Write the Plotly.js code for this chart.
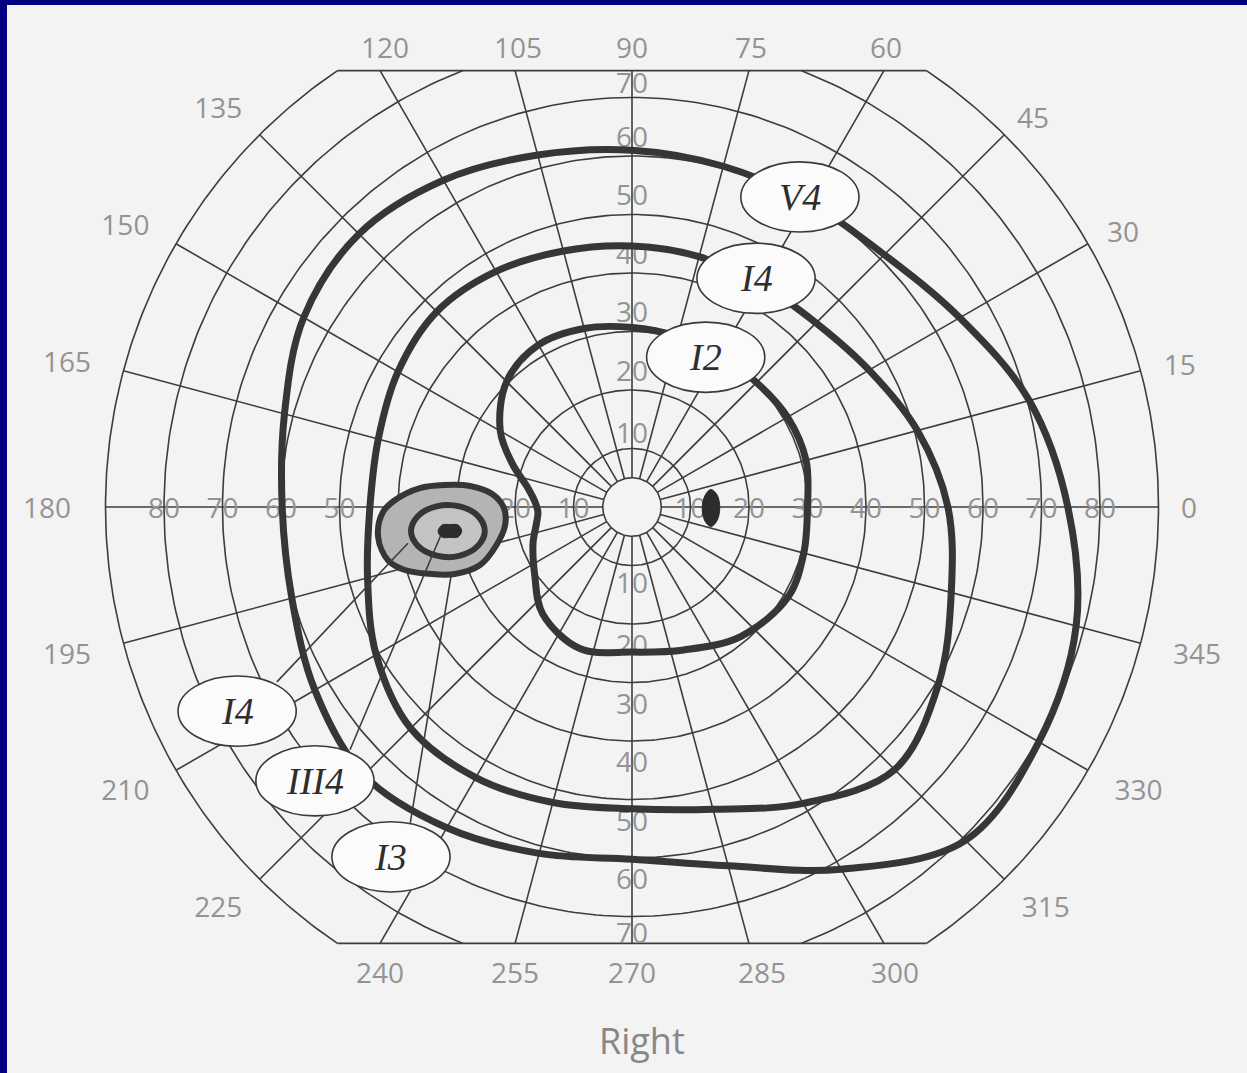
<!DOCTYPE html>
<html>
<head>
<meta charset="utf-8">
<script src="https://cdn.plot.ly/plotly-3.0.1.min.js"></script>
<style>
html,body{margin:0;padding:0;background:#f3f3f3;overflow:hidden;}
#chart{width:1247px;height:1073px;}
</style>
</head>
<body>
<div id="chart"></div>
<script>
// ================= DATA (degrees of visual field) =================
const ringRadii = [10, 20, 30, 40, 50, 60, 70, 80, 90];
const meridians = [0, 15, 30, 45, 60, 75, 90, 105, 120, 135, 150, 165, 180, 195, 210, 225, 240, 255, 270, 285, 300, 315, 330, 345];
const angleTickLabels = ['0','15','30','45','60','75','90','105','120','135','150','165','180','195','210','225','240','255','270','285','300','315','330','345'];
const hRadialTicks = [10, 20, 30, 40, 50, 60, 70, 80];
const vRadialTicks = [10, 20, 30, 40, 50, 60, 70];

// Isopter V4 (outer)
const v4Theta = [0, 15, 30, 45, 60, 75, 90, 105, 120, 135, 150, 165, 180, 195, 210, 225, 240, 255, 270, 285, 300, 315, 330, 345];
const v4R     = [74.5, 70.3, 64.7, 61.0, 60.2, 60.3, 61.0, 62.3, 64.5, 66.0, 64.8, 61.5, 59.8, 60.2, 62.6, 64.8, 63.3, 61.3, 60.2, 63.5, 71.5, 80.6, 80.3, 78.6];

// Isopter I4 (middle)
const i4Theta = [0, 15, 30, 45, 60, 75, 90, 105, 120, 135, 150, 165, 180, 195, 210, 225, 240, 255, 270, 285, 300, 315, 330, 345];
const i4R     = [54.0, 50.5, 46.8, 44.5, 44.0, 44.3, 44.6, 45.3, 46.5, 47.2, 46.2, 44.9, 44.8, 46.8, 50.5, 53.5, 53.4, 52.3, 51.6, 53.5, 58.5, 63.5, 60.5, 56.5];

// Isopter I2 (inner, notched nasally)
const i2Theta = [0, 15, 30, 45, 60, 75, 90, 105, 120, 135, 150, 160, 170, 177, 183, 190, 200, 215, 230, 250, 270, 290, 310, 330, 345];
const i2R     = [30.0, 30.8, 30.7, 30.1, 30.0, 30.2, 30.7, 31.6, 32.0, 30.3, 26.0, 21.8, 18.0, 16.6, 16.1, 16.6, 18.0, 20.3, 23.8, 25.8, 24.8, 26.0, 28.9, 30.8, 30.4];

// Scotoma: outer boundary, middle ring, core
const scotOuterTheta = [186.7, 181.2, 178.3, 174.9, 173.3, 172.6, 174.7, 180.4, 188.1, 196.0, 200.9, 200.7, 198.3, 195.5, 192.3];
const scotOuterR     = [43.7, 42.6, 40.5, 36.4, 32.2, 27.9, 24.0, 21.9, 21.9, 24.2, 27.8, 32.4, 36.4, 40.3, 42.7];
const scotMidTheta = [189.3, 183.3, 179.8, 179.8, 182.4, 186.2, 190.3, 194.0, 195.8, 194.2];
const scotMidR     = [25.5, 26.4, 29.5, 33.4, 36.6, 38.0, 37.2, 34.4, 30.7, 27.2];
const scotCoreTheta = [188.0, 185.9, 185.5, 185.4, 187.1, 189.0, 189.5, 189.8];
const scotCoreR     = [29.4, 29.9, 31.3, 32.6, 33.4, 32.9, 31.5, 30.2];

// Physiological blind spot
const blindTheta = [359.3, 8.0, 12.5, 9.3, 359.2, 349.1, 346.1, 350.6];
const blindR     = [15.0, 14.7, 13.8, 12.7, 12.0, 12.7, 13.9, 14.7];

// Isopter tags
const tagTexts = ['V4', 'I4', 'I2', 'I4', 'III4', 'I3'];

// ================= LAYOUT CONFIG =================
const CX = 632, CY = 507, K = 5.85;   // pixel centre, pixels per degree
const W = 1247, H = 1073;
const BORDER_L = 7, BORDER_T = 5;
const CLIP = 74.6;                    // flat top / bottom edge of the form
const OUTER = 90, INNER = 5;
const GRID = '#3d3d3d', INK = '#363636', TXT = '#939393', BG = '#f3f3f3', NAVY = '#000080';
const TICK_SIZE = 28;
const TEXT_DY = -0.68;                // compensates text baseline placement
// angle-label placement (pixels): horizontal / vertical radius by label length
const LAB_RX = {1: 557, 2: 567, 3: 585}, LAB_RY = {1: 548, 2: 551, 3: 565};
const LAB_NUDGE = {'120': 5, '105': 3, '75': 2, '60': 2, '285': 13, '300': 11};
const tagPos = [ [28.7, 53.0], [21.2, 39.1], [12.6, 25.6], [-67.5, -34.9], [-54.2, -46.8], [-41.2, -59.8] ];
// leader lines for the scotoma tags: [start, end] in degrees
const leaders = [ [[-60.7, -29.9], [-38.3, -6.2]], [[-48.2, -41.5], [-32.5, -4.4]], [[-37.9, -54.0], [-30.9, -11.6]] ];
const TAG_RX = 10.1, TAG_RY = 6.0;

// ================= helpers =================
const rad = d => d * Math.PI / 180;
function toXY(th, r, close) {
  const x = [], y = [];
  for (let i = 0; i < th.length; i++) {
    x.push(r[i] * Math.cos(rad(th[i])));
    y.push(r[i] * Math.sin(rad(th[i])));
  }
  if (close) { x.push(x[0]); y.push(y[0]); }
  return {x, y};
}
function arc(R, a0, a1, n, xs, ys) {
  for (let i = 0; i <= n; i++) {
    const a = rad(a0 + (a1 - a0) * i / n);
    xs.push(R * Math.cos(a)); ys.push(R * Math.sin(a));
  }
  xs.push(null); ys.push(null);
}

// ---- grid rings (clipped by flat top/bottom) ----
const gx = [], gy = [];
ringRadii.forEach(R => {
  if (R <= CLIP) arc(R, 0, 360, 360, gx, gy);
  else {
    const a = Math.asin(CLIP / R) * 180 / Math.PI;
    arc(R, -a, a, 160, gx, gy);
    arc(R, 180 - a, 180 + a, 160, gx, gy);
  }
});
const xe = Math.sqrt(OUTER * OUTER - CLIP * CLIP);
gx.push(-xe, xe, null, -xe, xe, null);
gy.push(CLIP, CLIP, null, -CLIP, -CLIP, null);

// ---- meridian lines ----
const mx = [], my = [];
meridians.forEach(m => {
  const s = Math.abs(Math.sin(rad(m)));
  let rEnd = OUTER;
  if (OUTER * s > CLIP) rEnd = CLIP / s;
  mx.push(INNER * Math.cos(rad(m)), rEnd * Math.cos(rad(m)), null);
  my.push(INNER * Math.sin(rad(m)), rEnd * Math.sin(rad(m)), null);
});

// ---- inner fixation disk ----
const disk = {x: [], y: []};
for (let i = 0; i <= 120; i++) { const a = rad(i * 3); disk.x.push(INNER * Math.cos(a)); disk.y.push(INNER * Math.sin(a)); }

// ---- radial tick labels ----
const rlx = [], rly = [], rlt = [];
hRadialTicks.forEach(v => { rlx.push(v, -v); rly.push(TEXT_DY, TEXT_DY); rlt.push(String(v), String(v)); });
vRadialTicks.forEach(v => {
  const off = Math.min(v + (v === 10 ? 2.8 : 3.5), CLIP - 2.0);
  rlx.push(0, 0); rly.push(off + TEXT_DY, -off + TEXT_DY); rlt.push(String(v), String(v));
});

// ---- angle tick labels ----
const alx = [], aly = [];
meridians.forEach((m, i) => {
  const s = Math.sin(rad(m)), c = Math.cos(rad(m));
  const lab = angleTickLabels[i];
  const nudge = (LAB_NUDGE[lab] || 0) / K;
  if (Math.abs(OUTER * s) > CLIP) {
    alx.push(CLIP * c / Math.abs(s) + nudge);
    aly.push((s > 0 ? CLIP + 4.0 : -(CLIP + 4.9)) + TEXT_DY);
  } else {
    alx.push(LAB_RX[lab.length] / K * c + nudge);
    aly.push(LAB_RY[lab.length] / K * s + TEXT_DY);
  }
});

const traces = [];
traces.push({x: gx, y: gy, mode: 'lines', line: {color: GRID, width: 1.6}, hoverinfo: 'skip'});
traces.push({x: mx, y: my, mode: 'lines', line: {color: GRID, width: 1.6}, hoverinfo: 'skip'});
traces.push({x: disk.x, y: disk.y, mode: 'lines', fill: 'toself', fillcolor: BG, line: {color: GRID, width: 1.6}, hoverinfo: 'skip'});
traces.push({x: rlx, y: rly, text: rlt, mode: 'text', textposition: 'middle center',
  textfont: {family: 'Open Sans, sans-serif', size: TICK_SIZE, color: TXT}, hoverinfo: 'skip'});
traces.push({x: alx, y: aly, text: angleTickLabels, mode: 'text', textposition: 'middle center',
  textfont: {family: 'Open Sans, sans-serif', size: TICK_SIZE, color: TXT}, hoverinfo: 'skip'});

function curve(th, r, opts) {
  const p = toXY(th, r, true);
  return Object.assign({x: p.x, y: p.y, mode: 'lines', hoverinfo: 'skip',
    line: {color: INK, width: 7, shape: 'spline', smoothing: 1}}, opts || {});
}
traces.push(curve(v4Theta, v4R));
traces.push(curve(i4Theta, i4R));
traces.push(curve(i2Theta, i2R));
traces.push(curve(scotOuterTheta, scotOuterR, {fill: 'toself', fillcolor: '#b4b4b4', line: {color: INK, width: 6, shape: 'spline', smoothing: 1}}));
traces.push(curve(scotMidTheta, scotMidR, {fill: 'toself', fillcolor: '#c4c4c4', line: {color: INK, width: 6, shape: 'spline', smoothing: 1}}));

// leader lines
const lx = [], ly = [];
leaders.forEach(l => { lx.push(l[0][0], l[1][0], null); ly.push(l[0][1], l[1][1], null); });
traces.push({x: lx, y: ly, mode: 'lines', line: {color: GRID, width: 1.6}, hoverinfo: 'skip'});

traces.push(curve(scotCoreTheta, scotCoreR, {fill: 'toself', fillcolor: '#2c2c2c', line: {color: '#2c2c2c', width: 1, shape: 'spline', smoothing: 1}}));
traces.push(curve(blindTheta, blindR, {fill: 'toself', fillcolor: '#2c2c2c', line: {color: '#2c2c2c', width: 1, shape: 'spline', smoothing: 1}}));

const shapes = tagPos.map(p => ({type: 'circle', xref: 'x', yref: 'y', layer: 'above',
  x0: p[0] - TAG_RX, x1: p[0] + TAG_RX, y0: p[1] - TAG_RY, y1: p[1] + TAG_RY,
  fillcolor: '#fbfbfb', line: {color: '#3a3a3a', width: 1.6}}));
// navy frame strips (left and top)
shapes.push({type: 'rect', xref: 'paper', yref: 'paper', layer: 'above', x0: 0, x1: BORDER_L / W, y0: 0, y1: 1, fillcolor: NAVY, line: {width: 0}});
shapes.push({type: 'rect', xref: 'paper', yref: 'paper', layer: 'above', x0: 0, x1: 1, y0: 1 - BORDER_T / H, y1: 1, fillcolor: NAVY, line: {width: 0}});

const annotations = tagPos.map((p, i) => ({x: p[0], y: p[1], xref: 'x', yref: 'y', showarrow: false,
  text: '<i>' + tagTexts[i] + '</i>', font: {family: 'Liberation Serif, serif', size: 38, color: '#2e2e2e'}}));
annotations.push({x: (642 - CX) / K, y: (CY - 1040) / K, xref: 'x', yref: 'y', showarrow: false,
  text: 'Right', font: {family: 'Open Sans, sans-serif', size: 36, color: '#878787'}});

const layout = {
  width: W, height: H,
  margin: {l: 0, r: 0, t: 0, b: 0, pad: 0},
  paper_bgcolor: BG, plot_bgcolor: BG,
  showlegend: false, hovermode: false,
  xaxis: {range: [(0 - CX) / K, (W - CX) / K], visible: false, fixedrange: true},
  yaxis: {range: [(CY - H) / K, CY / K], visible: false, fixedrange: true},
  shapes: shapes, annotations: annotations
};
Plotly.newPlot('chart', traces, layout, {staticPlot: true, displayModeBar: false});
</script>
</body>
</html>
